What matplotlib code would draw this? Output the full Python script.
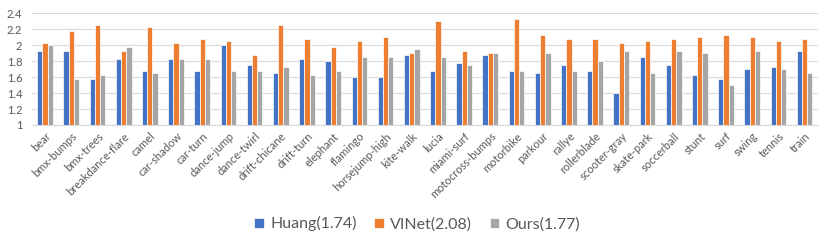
import matplotlib
matplotlib.use("Agg")
import matplotlib.pyplot as plt
import numpy as np

categories = ["bear", "bmx-bumps", "bmx-trees", "breakdance-flare", "camel", "car-shadow",
              "car-turn", "dance-jump", "dance-twirl", "drift-chicane", "drift-turn", "elephant",
              "flamingo", "horsejump-high", "kite-walk", "lucia", "miami-surf", "motocross-bumps",
              "motorbike", "parkour", "rallye", "rollerblade", "scooter-gray", "skate-park",
              "soccerball", "stunt", "surf", "swing", "tennis", "train"]
huang = [1.925, 1.925, 1.575, 1.825, 1.675, 1.825, 1.675, 2.0, 1.75, 1.65, 1.825, 1.8,
         1.6, 1.6, 1.875, 1.675, 1.775, 1.875, 1.675, 1.65, 1.75, 1.675, 1.4, 1.85,
         1.75, 1.625, 1.575, 1.7, 1.725, 1.925]
vinet = [2.025, 2.175, 2.25, 1.925, 2.225, 2.025, 2.075, 2.05, 1.875, 2.25, 2.075, 1.975,
         2.05, 2.1, 1.9, 2.3, 1.925, 1.9, 2.325, 2.125, 2.075, 2.075, 2.025, 2.05,
         2.075, 2.1, 2.125, 2.1, 2.05, 2.075]
ours = [2.0, 1.575, 1.625, 1.975, 1.65, 1.825, 1.825, 1.675, 1.675, 1.725, 1.625, 1.675,
        1.85, 1.85, 1.95, 1.85, 1.75, 1.9, 1.675, 1.9, 1.675, 1.8, 1.925, 1.65,
        1.925, 1.9, 1.5, 1.925, 1.7, 1.65]
series_labels = ["Huang(1.74)", "VINet(2.08)", "Ours(1.77)"]
yticks = [1, 1.2, 1.4, 1.6, 1.8, 2, 2.2, 2.4]
ytick_labels = ["1", "1.2", "1.4", "1.6", "1.8", "2", "2.2", "2.4"]

colors = ["#4472C4", "#ED7D31", "#A5A5A5"]
text_color = "#595959"
plt.rcParams['font.family'] = ['Lato', 'DejaVu Sans']

fig = plt.figure(figsize=(8.31, 2.42), dpi=100)
ax = fig.add_axes([0.0385, 0.4835, 0.9455, 0.4615])

x = np.arange(len(categories))
w = 0.2
for i, (vals, lab) in enumerate(zip([huang, vinet, ours], series_labels)):
    ax.bar(x + (i - 1) * w, np.array(vals) - 1, width=w, bottom=1, color=colors[i],
           edgecolor="white", linewidth=0.5, label=lab, zorder=3)

ax.set_xlim(-0.5, len(categories) - 0.5)
ax.set_ylim(1, 2.4)
ax.set_yticks(yticks)
ax.set_yticklabels(ytick_labels)
ax.yaxis.grid(True, color="#D9D9D9", linewidth=0.8, zorder=0)
ax.set_xticks(x)
ax.set_xticklabels(categories, rotation=45, ha="right", rotation_mode="anchor")
ax.tick_params(axis="both", length=0, labelsize=8, colors=text_color)
ax.tick_params(axis="x", pad=4)
ax.tick_params(axis="y", pad=7)
for s in ["top", "right", "left"]:
    ax.spines[s].set_visible(False)
ax.spines["bottom"].set_color("#D9D9D9")
ax.spines["bottom"].set_linewidth(0.8)

leg = fig.legend(loc="center", bbox_to_anchor=(0.502, 0.075), ncol=3, frameon=False,
                 fontsize=11.5, handlelength=0.6, handleheight=0.6, handletextpad=0.4,
                 columnspacing=1.1)
for t in leg.get_texts():
    t.set_color(text_color)

fig.savefig("out.png", dpi=100)
